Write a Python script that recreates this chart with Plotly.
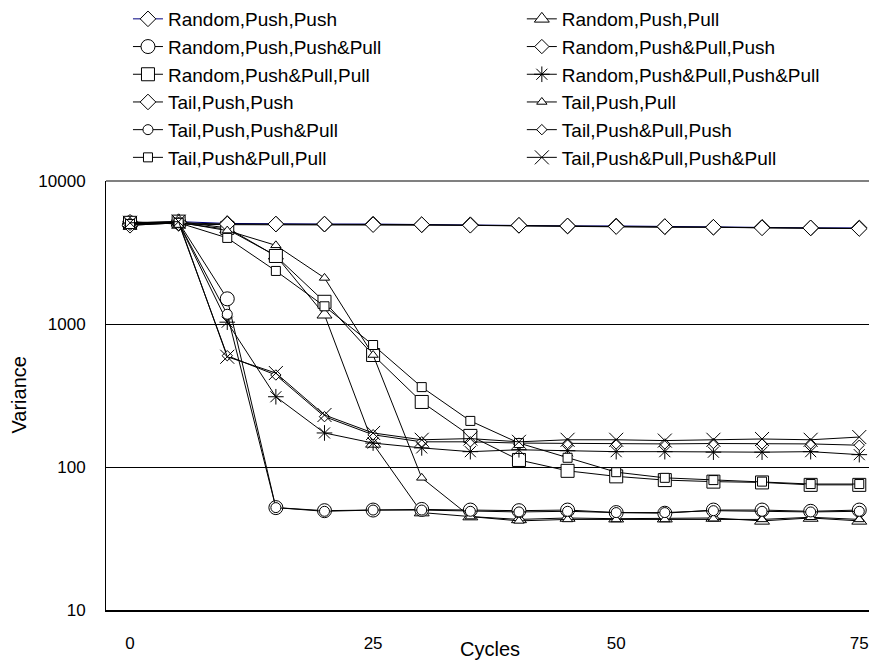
import plotly.graph_objects as go

# ---------------- data ----------------
cycles = [0, 5, 10, 15, 20, 25, 30, 35, 40, 45, 50, 55, 60, 65, 70, 75]

random_push_push = [5000, 5200, 5050, 5000, 5000, 5000, 4950, 4950, 4900, 4850, 4850, 4800, 4750, 4750, 4700, 4700]
random_push_pushpull = [5100, 5150, 1500, 52, 49.5, 50, 50.5, 50, 49.5, 50, 48, 47.5, 50, 50, 49, 50]
random_pushpull_pull = [5100, 5200, 4700, 2990, 1430, 607, 285, 165, 112, 94, 86, 81, 79, 78, 75, 75]
tail_push_push = [4900, 5100, 5000, 5000, 5000, 4950, 4950, 4900, 4900, 4850, 4800, 4800, 4750, 4700, 4700, 4650]
tail_push_pushpull = [5000, 5100, 1170, 52, 49, 50, 50, 49, 48.5, 49, 48, 48, 49.5, 49, 48.5, 49]
tail_pushpull_pull = [5000, 5100, 4000, 2350, 1330, 713, 362, 210, 147, 116, 92, 84, 81, 79, 76, 76]

random_push_pull = [5050, 5100, 4600, 3000, 1160, 145, 48, 45, 43, 44, 43.5, 43.5, 44, 42, 44, 42]
random_pushpull_push = [5200, 5000, 4950, 4950, 4950, 4950, 4900, 4900, 4850, 4800, 4800, 4750, 4750, 4700, 4650, 4650]
random_pushpull_pushpull = [5000, 5100, 1030, 310, 173, 147, 136, 128, 132, 130, 128, 128, 127, 127, 128, 122]
tail_push_pull = [5000, 5150, 4500, 3550, 2100, 607, 84, 45, 42, 43, 43, 43, 43.5, 43, 44.5, 43]
tail_pushpull_push = [4900, 5100, 600, 440, 225, 168, 150, 150, 147, 146, 145, 145, 146, 145, 145, 142]
tail_pushpull_pushpull = [5100, 5200, 590, 454, 231, 173, 155, 158, 150, 155, 155, 153, 155, 157, 155, 162]

y_tickvals = [10, 100, 1000, 10000]
y_ticktext = ["10", "100", "1000", "10000"]
x_tickvals = [0, 25, 50, 75]
x_ticktext = ["0", "25", "50", "75"]

# ---------------- series / styles ----------------
series = [
    ("Random,Push,Push", random_push_push, "legend"),
    ("Random,Push,Pull", random_push_pull, "legend2"),
    ("Random,Push,Push&Pull", random_push_pushpull, "legend"),
    ("Random,Push&Pull,Push", random_pushpull_push, "legend2"),
    ("Random,Push&Pull,Pull", random_pushpull_pull, "legend"),
    ("Random,Push&Pull,Push&Pull", random_pushpull_pushpull, "legend2"),
    ("Tail,Push,Push", tail_push_push, "legend"),
    ("Tail,Push,Pull", tail_push_pull, "legend2"),
    ("Tail,Push,Push&Pull", tail_push_pushpull, "legend"),
    ("Tail,Push&Pull,Push", tail_pushpull_push, "legend2"),
    ("Tail,Push&Pull,Pull", tail_pushpull_pull, "legend"),
    ("Tail,Push&Pull,Push&Pull", tail_pushpull_pushpull, "legend2"),
]

styles = {
    "Random,Push,Push": dict(symbol="diamond", size=12, line="#000080"),
    "Random,Push,Pull": dict(symbol="triangle-up", size=13, line="black"),
    "Random,Push,Push&Pull": dict(symbol="circle", size=14, line="black"),
    "Random,Push&Pull,Push": dict(symbol="diamond", size=11, line="black"),
    "Random,Push&Pull,Pull": dict(symbol="square", size=13, line="black"),
    "Random,Push&Pull,Push&Pull": dict(symbol="asterisk-open", size=13, line="black"),
    "Tail,Push,Push": dict(symbol="diamond", size=12, line="black"),
    "Tail,Push,Pull": dict(symbol="triangle-up", size=9, line="black"),
    "Tail,Push,Push&Pull": dict(symbol="circle", size=10, line="black"),
    "Tail,Push&Pull,Push": dict(symbol="diamond", size=8, line="black"),
    "Tail,Push&Pull,Pull": dict(symbol="square", size=9, line="black"),
    "Tail,Push&Pull,Push&Pull": dict(symbol="x-thin-open", size=14, line="black"),
}

fig = go.Figure()
for name, values, leg in series:
    st = styles[name]
    is_open = st["symbol"].endswith("-open")
    marker = dict(
        symbol=st["symbol"],
        size=st["size"],
        color="black" if is_open else "white",
        line=dict(color="black", width=1),
    )
    fig.add_trace(go.Scatter(
        x=cycles, y=values, name=name, legend=leg,
        mode="lines+markers",
        line=dict(color=st["line"], width=1),
        marker=marker,
    ))

font_family = "Liberation Sans, Arial, sans-serif"

fig.update_layout(
    width=869, height=662,
    margin=dict(l=106, r=0, t=181, b=52),
    plot_bgcolor="white", paper_bgcolor="white",
    font=dict(family=font_family, color="black"),
    showlegend=True,
    legend=dict(
        x=0.0288, xanchor="left", y=1.4219, yanchor="top",
        orientation="v", font=dict(size=19, family=font_family),
        bgcolor="rgba(0,0,0,0)", borderwidth=0,
    ),
    legend2=dict(
        x=0.545, xanchor="left", y=1.4219, yanchor="top",
        orientation="v", font=dict(size=19, family=font_family),
        bgcolor="rgba(0,0,0,0)", borderwidth=0,
    ),
    xaxis=dict(
        range=[-2.47, 76.0],
        tickvals=x_tickvals, ticktext=x_ticktext,
        showgrid=False, zeroline=False,
        showline=True, linecolor="black", linewidth=2,
        ticks="", ticklabelstandoff=17,
        tickfont=dict(size=17),
    ),
    yaxis=dict(
        type="log", range=[1, 4],
        tickvals=y_tickvals, ticktext=y_ticktext,
        showgrid=True, gridcolor="black", gridwidth=1,
        zeroline=False,
        showline=True, linecolor="black", linewidth=1,
        ticks="", ticklabelstandoff=16,
        tickfont=dict(size=17),
    ),
    shapes=[
        dict(type="line", xref="paper", yref="paper", x0=0, x1=1, y0=1, y1=1,
             line=dict(color="#808080", width=2), layer="above"),
    ],
    annotations=[
        dict(text="Cycles", xref="paper", yref="paper", x=0.503, y=-0.0909,
             xanchor="center", yanchor="middle", showarrow=False,
             font=dict(size=20)),
        dict(text="Variance", xref="paper", yref="paper", x=-0.1153, y=0.5,
             xanchor="center", yanchor="middle", showarrow=False, textangle=-90,
             font=dict(size=20)),
    ],
)

fig.write_html("out.html", config={"displayModeBar": False})
